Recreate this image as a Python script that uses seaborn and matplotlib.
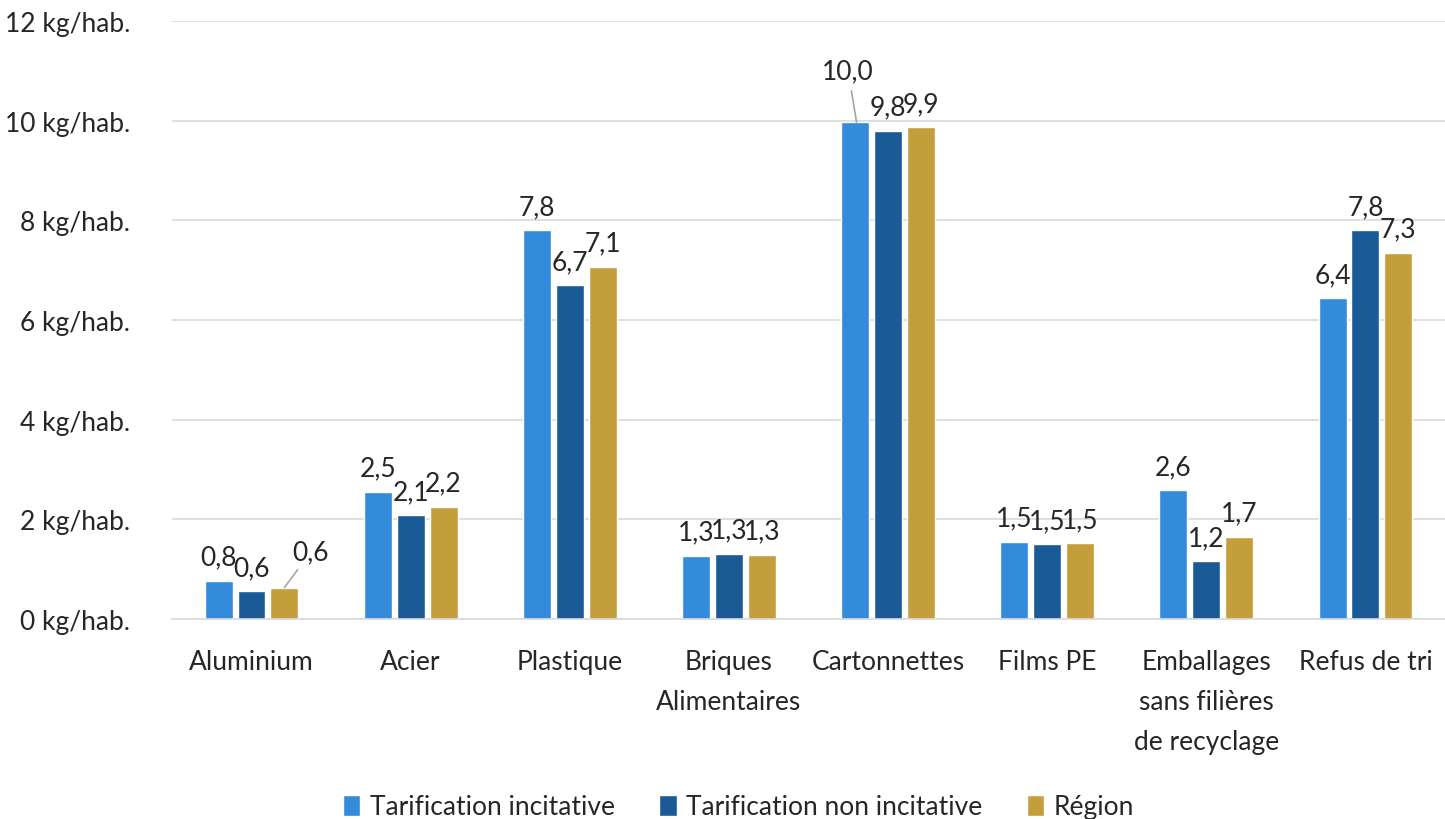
import pandas as pd
import matplotlib.pyplot as plt
import seaborn as sns

# data
categories = ["Aluminium", "Acier", "Plastique", "Briques\nAlimentaires", "Cartonnettes",
              "Films PE", "Emballages\nsans filières\nde recyclage", "Refus de tri"]
series = ["Tarification incitative", "Tarification non incitative", "Région"]
incitative = [0.77, 2.55, 7.80, 1.27, 9.97, 1.55, 2.58, 6.44]
non_incitative = [0.56, 2.08, 6.70, 1.31, 9.80, 1.50, 1.16, 7.80]
region = [0.63, 2.25, 7.07, 1.29, 9.87, 1.52, 1.65, 7.35]
labels_inc = ["0,8", "2,5", "7,8", "1,3", "10,0", "1,5", "2,6", "6,4"]
labels_non = ["0,6", "2,1", "6,7", "1,3", "9,8", "1,5", "1,2", "7,8"]
labels_reg = ["0,6", "2,2", "7,1", "1,3", "9,9", "1,5", "1,7", "7,3"]
colors = ["#348BDC", "#1A5A96", "#C59E3C"]

df = pd.DataFrame({
    "categorie": categories * 3,
    "serie": [s for s in series for _ in categories],
    "valeur": incitative + non_incitative + region,
})

sns.set_style("white")
plt.rcParams['font.family'] = ['Lato', 'DejaVu Sans']

fig = plt.figure(figsize=(14.45, 8.2), dpi=100)
ax = fig.add_axes([0.119, 0.244, 0.881, 0.729])

sns.barplot(data=df, x="categorie", y="valeur", hue="serie", palette=colors,
            saturation=1, width=0.62, gap=0.15, ax=ax, legend=True)

FS = 19
all_labels = [labels_inc, labels_non, labels_reg]
for i, cont in enumerate(ax.containers):
    labs = list(all_labels[i])
    # labels with leader lines are drawn separately
    if i == 0:
        labs[4] = ""
    if i == 2:
        labs[0] = ""
    ax.bar_label(cont, labels=labs, padding=8, fontsize=FS)

# leader-line labels
b = ax.containers[0][4]
ax.annotate("10,0", xy=(b.get_x() + b.get_width() * 0.55, b.get_height()),
            xytext=(b.get_x() + b.get_width() * 0.25, 11.0), fontsize=FS,
            ha="center", va="center",
            arrowprops=dict(arrowstyle="-", color="#a6a6a6", lw=1.2, shrinkA=3, shrinkB=0))
b = ax.containers[2][0]
ax.annotate("0,6", xy=(b.get_x() + b.get_width() * 0.5, b.get_height()),
            xytext=(b.get_x() + b.get_width() * 1.45, 1.35), fontsize=FS,
            ha="center", va="center",
            arrowprops=dict(arrowstyle="-", color="#a6a6a6", lw=1.2, shrinkA=2, shrinkB=0))

ax.set_ylim(0, 12)
ax.set_xlim(-0.5, 7.5)
ax.set_yticks(range(0, 13, 2))
ax.set_yticklabels([f"{v} kg/hab." for v in range(0, 13, 2)], fontsize=FS)
ax.tick_params(axis="x", labelsize=FS, length=0, pad=22)
ax.tick_params(axis="y", length=0, pad=30)
for t in ax.get_xticklabels():
    t.set_linespacing(1.75)
    t.set_verticalalignment("top")
ax.grid(axis="y", color="#d9d9d9", lw=1.2)
ax.set_axisbelow(True)
ax.set_xlabel("")
ax.set_ylabel("")
for s in ["top", "right", "left"]:
    ax.spines[s].set_visible(False)
ax.spines["bottom"].set_color("#d9d9d9")
ax.spines["bottom"].set_linewidth(1.2)

ax.legend(loc="lower center", bbox_to_anchor=(0.445, -0.375), ncol=3, frameon=False,
          fontsize=FS, handlelength=0.65, handleheight=0.85, handletextpad=0.35,
          columnspacing=1.7, title=None)

plt.savefig("out.png", dpi=100)
